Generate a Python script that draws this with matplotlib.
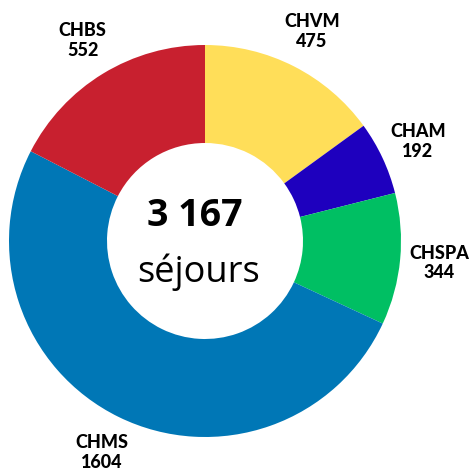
import matplotlib.pyplot as plt

labels = ["CHVM", "CHAM", "CHSPA", "CHMS", "CHBS"]
sejours = [475, 192, 344, 1604, 552]
colors = ["#FFDE59", "#1E00BE", "#00BF63", "#0077B6", "#C8202F"]

total = sum(sejours)
total_text = f"{total:,}".replace(",", " ")

fig = plt.figure(figsize=(4.77, 4.74), dpi=100)
ax = fig.add_axes([0, 0, 1, 1])

cx, cy, r = 205, 474 - 241, 196
wedges, texts = ax.pie(
    sejours,
    colors=colors,
    labels=[f"{n}\n{v}" for n, v in zip(labels, sejours)],
    startangle=90,
    counterclock=False,
    center=(cx, cy),
    radius=r,
    labeldistance=1.2,
    wedgeprops=dict(width=r * 0.5, linewidth=0),
    textprops=dict(fontsize=13, fontweight="black", family="Lato",
                   linespacing=1.2),
    frame=True,
)
for t in texts:
    t.set_horizontalalignment("center")
    t.set_verticalalignment("center")
ax.axis("off")
ax.set_xlim(0, 477)
ax.set_ylim(0, 474)
ax.set_aspect("equal")

ax.text(cx - 10, cy + 25, total_text, ha="center", va="center",
        fontsize=27, fontweight="bold", family="Open Sans")
ax.text(cx - 6, cy - 31, "séjours", ha="center", va="center",
        fontsize=26, family="Open Sans")

fig.savefig("out.png", dpi=100)
